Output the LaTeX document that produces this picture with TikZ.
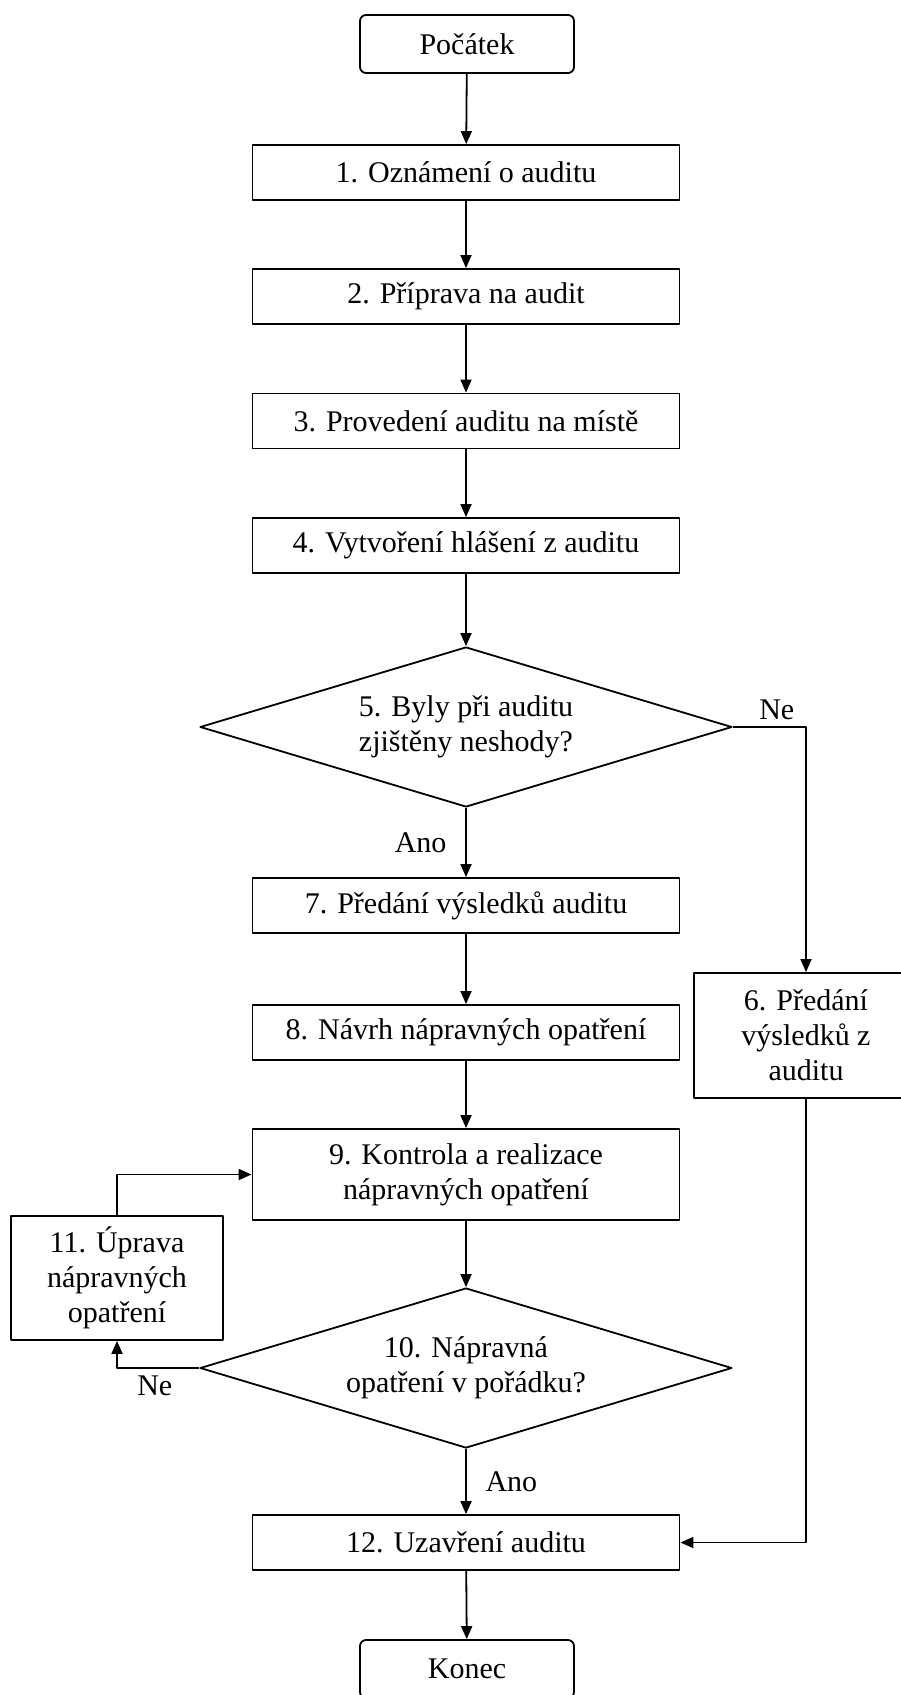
\documentclass[tikz,border=0pt]{standalone}
\usepackage{fontspec}
\setmainfont{Liberation Serif}
\usetikzlibrary{shapes.geometric,arrows.meta}
\begin{document}
\begin{tikzpicture}[x=0.5pt,y=-0.5pt,font=\fontsize{15}{17.5}\selectfont,line join=round,line width=0.9pt,>={Triangle[length=6.5pt,width=5.5pt]}]
				\tikzset{krok/.style={draw,minimum width=213.5pt,minimum height=27.5pt,inner sep=2pt,align=center},
					mez/.style={krok,rounded corners=3pt,minimum width=107pt,minimum height=29pt},
					rozh/.style={draw,diamond,aspect=3.325,minimum width=266pt,minimum height=80pt,inner sep=0pt,align=center}}
				\useasboundingbox (0,0) rectangle (900,1695);
				\node[mez] (start) at (467,44) {Počátek};
				\node[krok] (k1) at (466,172.5) {1. Oznámení o auditu};
				\node[krok] (k2) at (466,296.5) {2. Příprava na audit};
				\node[krok] (k3) at (466,421) {3. Provedení auditu na místě};
				\node[krok] (k4) at (466,545.5) {4. Vytvoření hlášení z auditu};
				\node[rozh] (k5) at (466,727) {5. Byly při auditu\\zjištěny neshody?};
				\node[krok] (k7) at (466,905.5) {7. Předání výsledků auditu};
				\node[krok,minimum width=112pt,minimum height=62.5pt] (k6) at (806,1035.5) {6. Předání\\výsledků z\\auditu};
				\node[krok] (k8) at (466,1032.5) {8. Návrh nápravných opatření};
				\node[krok,minimum height=45.5pt] (k9) at (466,1174.5) {9. Kontrola a realizace\\nápravných opatření};
				\node[krok,minimum width=106pt,minimum height=62pt] (k11) at (117,1278) {11. Úprava\\nápravných\\opatření};
				\node[rozh] (k10) at (466,1368) {10. Nápravná\\opatření v pořádku?};
				\node[krok] (k12) at (466,1542.5) {12. Uzavření auditu};
				\node[mez] (konec) at (467,1669) {Konec};
				\draw[->] (start)--(k1);
				\draw[->] (k1)--(k2);
				\draw[->] (k2)--(k3);
				\draw[->] (k3)--(k4);
				\draw[->] (k4)--(k5);
				\draw[->] (k5.east) -| (k6.north) node[pos=0.3,above] (ne5) {Ne};
				\draw[->] (k5.south)--(k7.north) node[pos=0.5,left=6pt] (ano5) {Ano};
				\draw[->] (k7)--(k8);
				\draw[->] (k8)--(k9);
				\draw[->] (k9)--(k10);
				\draw[->] (k10.west) -| (k11.south) node[pos=0.27,below] (ne10) {Ne};
				\draw[->] (k11.north) |- (k9.west);
				\draw[->] (k10.south)--(k12.north) node[pos=0.5,right=6pt] (ano10) {Ano};
				\draw[->] (k6.south) |- (k12.east);
				\draw[->] (k12)--(konec);
			\end{tikzpicture}
\end{document}
